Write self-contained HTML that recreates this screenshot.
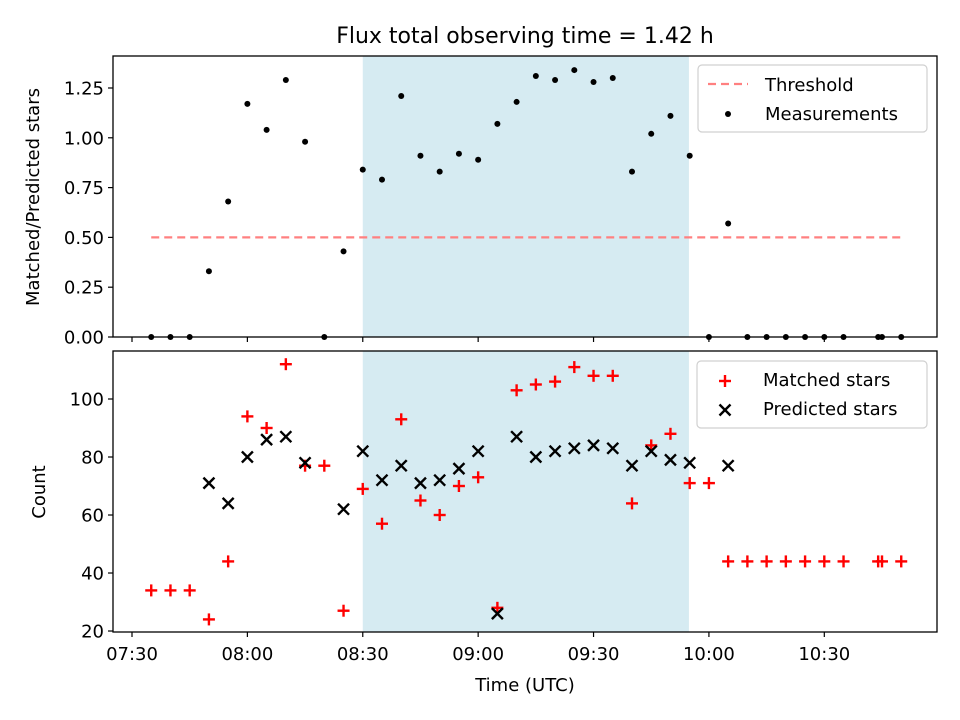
<!DOCTYPE html>
<html><head><meta charset="utf-8"><style>
body{margin:0;background:#fff;}
svg{display:block;font-family:"DejaVu Sans","Liberation Sans",sans-serif;}
</style></head><body>
<svg id="chart" width="960" height="720" viewBox="0 0 960 720" xmlns="http://www.w3.org/2000/svg"></svg>
<script>
// time in minutes after 07:30
const times = [5,10,15,20,25,30,35,40,45,50,55,60,65,70,75,80,85,90,95,100,105,110,115,120,125,130,135,140,145,150,155,160,165,170,175,180,185,194,195,200];
const ratios = [0,0,0,0.33,0.68,1.17,1.04,1.29,0.98,0,0.43,0.84,0.79,1.21,0.91,0.83,0.92,0.89,1.07,1.18,1.31,1.29,1.34,1.28,1.30,0.83,1.02,1.11,0.91,0,0.57,0,0,0,0,0,0,0,0,0];
const matched = [34,34,34,24,44,94,90,112,77,77,27,69,57,93,65,60,70,73,28,103,105,106,111,108,108,64,84,88,71,71,44,44,44,44,44,44,44,44,44,44];
const predicted = [null,null,null,71,64,80,86,87,78,null,62,82,72,77,71,72,76,82,26,87,80,82,83,84,83,77,82,79,78,null,77,null,null,null,null,null,null,null,null,null];
const xTickLabels = ["07:30","08:00","08:30","09:00","09:30","10:00","10:30"];
const xTickValues = [0,30,60,90,120,150,180];
const topTicks = [0,0.25,0.5,0.75,1.0,1.25];
const botTicks = [20,40,60,80,100];
const threshold = 0.5;
const thresholdRange = [5,200];
const shadeRange = [60,144.8];

const NS="http://www.w3.org/2000/svg";
const svg=document.getElementById('chart');
function el(tag,attrs,parent){const e=document.createElementNS(NS,tag);for(const k in attrs)e.setAttribute(k,attrs[k]);(parent||svg).appendChild(e);return e;}
const L=113,R=937;
const xMin=-4.94,xMax=209.3;
function X(m){return L+(m-xMin)/(xMax-xMin)*(R-L);}
const T={top:56,bot:337,min:0,max:1.4106};
const B={top:351,bot:632,min:19.66,max:116.55};
function Y(ax,v){return ax.bot-(v-ax.min)/(ax.max-ax.min)*(ax.bot-ax.top);}

const title=el('text',{x:525,y:43,'font-size':22,'text-anchor':'middle',fill:'#000'});
title.textContent='Flux total observing time = 1.42 h';



function panel(ax,ticks,fmt,name,showX){
  const g=el('g',{});
  
  
  const sh=el('rect',{x:X(shadeRange[0]),y:ax.top,width:X(shadeRange[1])-X(shadeRange[0]),height:ax.bot-ax.top,fill:'#add8e6','fill-opacity':0.5},g);
  
  
  ticks.forEach(t=>{
    const y=Y(ax,t);
    el('line',{x1:L-5,x2:L,y1:y,y2:y,stroke:'#000','stroke-width':1.2},g);
    const tx=el('text',{x:L-9,y:y+6.5,'font-size':18,'text-anchor':'end'},g);
    tx.textContent=fmt(t);
    
    
  });
  xTickValues.forEach((v,i)=>{
    const x=X(v);
    el('line',{x1:x,x2:x,y1:ax.bot,y2:ax.bot+5,stroke:'#000','stroke-width':1.2},g);
    if(showX){
      const tx=el('text',{x:x,y:ax.bot+28,'font-size':18,'text-anchor':'middle'},g);
      tx.textContent=xTickLabels[i];
      
      
    }
  });
  return g;
}
const gt=panel(T,topTicks,v=>v.toFixed(2),'top-panel',false);
const gb=panel(B,botTicks,v=>String(v),'bottom-panel',true);

// threshold
const th=el('line',{x1:X(thresholdRange[0]),x2:X(thresholdRange[1]),y1:Y(T,threshold),y2:Y(T,threshold),stroke:'#ff8080','stroke-width':2.2,'stroke-dasharray':'8,5'},gt);


// measurements
times.forEach((t,i)=>{
  const c=el('circle',{cx:X(t),cy:Y(T,ratios[i]),r:3,fill:'#000'},gt);
  
  
});
// matched / predicted
function plus(x,y,p,col){const g=el('g',{stroke:col,'stroke-width':2.4},p);el('line',{x1:x-6,x2:x+6,y1:y,y2:y},g);el('line',{x1:x,x2:x,y1:y-6,y2:y+6},g);return g;}
function cross(x,y,p,col){const g=el('g',{stroke:col,'stroke-width':2.4},p);el('line',{x1:x-5.5,x2:x+5.5,y1:y-5.5,y2:y+5.5},g);el('line',{x1:x-5.5,x2:x+5.5,y1:y+5.5,y2:y-5.5},g);return g;}
times.forEach((t,i)=>{
  const m=plus(X(t),Y(B,matched[i]),gb,'#ff0000');
  
  
});
times.forEach((t,i)=>{
  if(predicted[i]==null)return;
  const p=cross(X(t),Y(B,predicted[i]),gb,'#000');
  
  
});
// frames
[T,B].forEach(ax=>{el('rect',{x:L,y:ax.top,width:R-L,height:ax.bot-ax.top,fill:'none',stroke:'#000','stroke-width':1.3});});

// legends
function legend(x,y,w,h,name){const r=el('rect',{x:x,y:y,width:w,height:h,rx:4,fill:'#fff','fill-opacity':0.8,stroke:'#d0d0d0','stroke-width':1.2});}
legend(698,65,229,67,'top-legend');
el('line',{x1:708,x2:748,y1:84,y2:84,stroke:'#ff8080','stroke-width':2.2,'stroke-dasharray':'8,5'});
let t1=el('text',{x:765,y:91,'font-size':18});t1.textContent='Threshold';

el('circle',{cx:728,cy:114,r:3,fill:'#000'});
let t2=el('text',{x:765,y:120,'font-size':18});t2.textContent='Measurements';


legend(697,361,230,67,'bottom-legend');
plus(725,381,svg,'#ff0000');
let t3=el('text',{x:763,y:386,'font-size':18});t3.textContent='Matched stars';

cross(725,410,svg,'#000');
let t4=el('text',{x:763,y:415,'font-size':18});t4.textContent='Predicted stars';


// axis titles
let yt=el('text',{x:0,y:0,'font-size':18,'text-anchor':'middle',transform:'translate(39,197) rotate(-90)'});yt.textContent='Matched/Predicted stars';

let yb=el('text',{x:0,y:0,'font-size':18,'text-anchor':'middle',transform:'translate(45,492) rotate(-90)'});yb.textContent='Count';

let xt=el('text',{x:525,y:691,'font-size':18,'text-anchor':'middle'});xt.textContent='Time (UTC)';

</script>
</body></html>
